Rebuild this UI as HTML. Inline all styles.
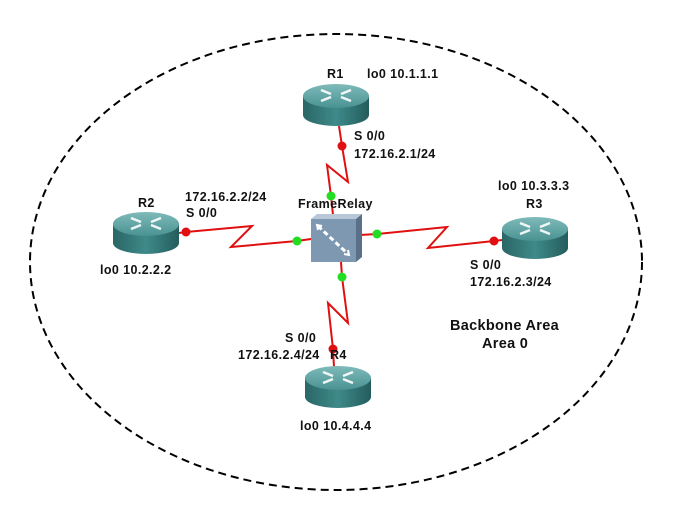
<!DOCTYPE html>
<html><head><meta charset="utf-8"><style>
html,body{margin:0;padding:0;background:#fff;}
svg{display:block;}
text{font-family:"Liberation Sans",sans-serif;font-weight:bold;font-size:12.5px;fill:#111;letter-spacing:0.4px;}
</style></head><body>
<svg width="673" height="505" viewBox="0 0 673 505" xmlns="http://www.w3.org/2000/svg">
<defs>
<linearGradient id="rb" x1="0" x2="1" y1="0" y2="0">
<stop offset="0" stop-color="#2a6666"/><stop offset="0.5" stop-color="#3f8a8a"/><stop offset="1" stop-color="#245c5c"/>
</linearGradient>
<linearGradient id="rt" x1="0" x2="0" y1="0" y2="1">
<stop offset="0" stop-color="#7fbaba"/><stop offset="1" stop-color="#4a9292"/>
</linearGradient>
<g id="router">
<path d="M0,12 L0,31 A33,11 0 0 0 66,31 L66,12 Z" fill="url(#rb)"/>
<ellipse cx="33" cy="12" rx="33" ry="12" fill="url(#rt)"/>
<g stroke="#fff" stroke-width="2.5" fill="none" opacity="0.9">
<path d="M18,6 L28,10 M38,13 L48,17 M48,6 L38,10 M28,13 L18,17"/>
</g>
</g>
</defs>
<ellipse cx="336" cy="262" rx="306" ry="228" fill="none" stroke="#000" stroke-width="2" stroke-dasharray="8,5"/>
<g stroke="#e01010" stroke-width="2" fill="none">
<polyline points="339,126 342,146 348,182 327,165 331,196 333,215"/>
<polyline points="179,233 186,232 252,226 231,247 297,241 311,239"/>
<polyline points="360,235 377,234 447,227 428,248 494,241 502,240"/>
<polyline points="341,262 342,277 348,323 328,303 333,349 334,367"/>
</g>
<use href="#router" x="303" y="84"/>
<use href="#router" x="113" y="212"/>
<use href="#router" x="502" y="217"/>
<use href="#router" x="305" y="366"/>
<polygon points="311,219 317,214 362,214 356,219" fill="#b8c8d8"/>
<polygon points="356,219 362,214 362,257 356,262" fill="#5a7088"/>
<rect x="311" y="219" width="45" height="43" fill="#7f98b2"/>
<path d="M318,226 L348,254" stroke="#fff" stroke-width="3" stroke-dasharray="5,3"/>
<path d="M344,254 L349,255 L348,250" stroke="#fff" stroke-width="2" fill="none"/>
<path d="M322,226 L317,225 L318,230" stroke="#fff" stroke-width="2" fill="none"/>
<g fill="#e01010"><circle cx="342" cy="146" r="4.5"/><circle cx="186" cy="232" r="4.5"/><circle cx="494" cy="241" r="4.5"/><circle cx="333" cy="349" r="4.5"/></g>
<g fill="#22dd22"><circle cx="331" cy="196" r="4.5"/><circle cx="297" cy="241" r="4.5"/><circle cx="377" cy="234" r="4.5"/><circle cx="342" cy="277" r="4.5"/></g>
<text x="327" y="78">R1</text>
<text x="367" y="78">lo0 10.1.1.1</text>
<text x="354" y="140">S 0/0</text>
<text x="354" y="158">172.16.2.1/24</text>
<text x="298" y="208">FrameRelay</text>
<text x="138" y="207">R2</text>
<text x="185" y="201">172.16.2.2/24</text>
<text x="186" y="217">S 0/0</text>
<text x="100" y="274">lo0 10.2.2.2</text>
<text x="498" y="190">lo0 10.3.3.3</text>
<text x="526" y="208">R3</text>
<text x="470" y="269">S 0/0</text>
<text x="470" y="286">172.16.2.3/24</text>
<text x="285" y="342">S 0/0</text>
<text x="238" y="359">172.16.2.4/24</text>
<text x="330" y="359">R4</text>
<text x="300" y="430">lo0 10.4.4.4</text>
<text x="450" y="330" style="font-size:14.5px;letter-spacing:0.3px">Backbone Area</text>
<text x="482" y="348" style="font-size:14.5px;letter-spacing:0.3px">Area 0</text>
</svg>
</body></html>
